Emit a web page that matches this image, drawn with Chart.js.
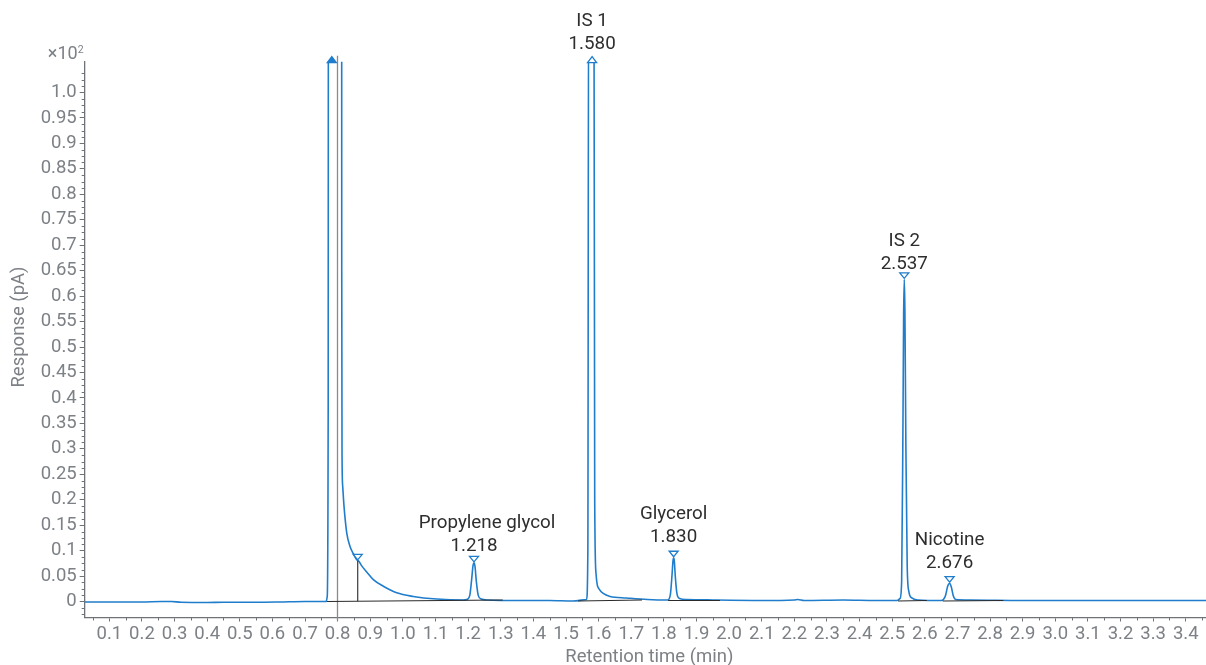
<!DOCTYPE html>
<html>
<head>
<meta charset="utf-8">
<script src="https://cdn.jsdelivr.net/npm/chart.js@4.4.1/dist/chart.umd.min.js"></script>
<style>
html,body{margin:0;padding:0;background:#ffffff;}
#wrap{width:1206px;height:665px;position:relative;overflow:hidden;}
canvas{display:block;}
</style>
</head>
<body>
<div id="wrap"><canvas id="c" width="1206" height="665"></canvas></div>
<script>
// ---------------- data ----------------
// retention time (min) and response (x10^2 pA) of the chromatogram trace
const traceTime = [
  0.024, 0.10, 0.20, 0.26, 0.29, 0.32, 0.40, 0.45, 0.55, 0.62, 0.70, 0.765,
  0.768, 0.771, 0.772, 0.812, 0.8125, 0.8135, 0.8155, 0.8195, 0.8278, 0.8379,
  0.8480, 0.8584, 0.8650, 0.8738, 0.8891, 0.9093, 0.9400, 0.9811, 1.0319,
  1.1037, 1.1852, 1.196, 1.205, 1.211, 1.215, 1.218, 1.221, 1.225, 1.231,
  1.240, 1.260, 1.350, 1.450, 1.520, 1.563, 1.567, 1.5695, 1.5855,
  1.588, 1.592, 1.596, 1.600, 1.614, 1.635, 1.686, 1.750, 1.812, 1.820,
  1.825, 1.828, 1.830, 1.832, 1.835, 1.840, 1.848, 1.870, 1.950, 2.100,
  2.200, 2.210, 2.230, 2.350, 2.450, 2.515, 2.524, 2.529, 2.533, 2.535,
  2.537, 2.539, 2.542, 2.546, 2.551, 2.560, 2.580, 2.650, 2.657, 2.664,
  2.670, 2.676, 2.681, 2.687, 2.695, 2.740, 2.900, 3.100, 3.300, 3.462
];
const traceResponse = [
  -0.001, -0.001, -0.001, 0.000, 0.000, -0.0015, -0.002, -0.0015, -0.0015, -0.001, 0.000, 0.000,
  0.010, 0.400, 2.000, 2.000, 0.650, 0.280, 0.226, 0.187, 0.135, 0.108,
  0.094, 0.082, 0.079, 0.070, 0.058, 0.043, 0.030, 0.017, 0.010,
  0.005, 0.003, 0.004, 0.012, 0.045, 0.071, 0.076, 0.069, 0.040, 0.012,
  0.005, 0.003, 0.002, 0.002, 0.001, 0.004, 0.100, 1.300, 1.300,
  0.200, 0.055, 0.032, 0.026, 0.016, 0.010, 0.007, 0.004, 0.003, 0.014,
  0.052, 0.080, 0.086, 0.080, 0.050, 0.016, 0.006, 0.004, 0.003, 0.002,
  0.003, 0.004, 0.002, 0.003, 0.002, 0.002, 0.006, 0.040, 0.350, 0.560,
  0.633, 0.570, 0.300, 0.070, 0.020, 0.007, 0.003, 0.002, 0.004, 0.013,
  0.030, 0.036, 0.029, 0.012, 0.004, 0.003, 0.002, 0.002, 0.002, 0.002
];

// integration baselines (start/end time and response)
const baseStartTime = [0.767, 1.537, 1.813, 2.518, 2.655];
const baseStartResp = [0.000, 0.001, 0.002, 0.001, 0.001];
const baseEndTime   = [1.306, 1.733, 1.972, 2.606, 2.841];
const baseEndResp   = [0.003, 0.003, 0.002, 0.002, 0.002];

// peak split (drop) line
const dropTime = [0.8615];
const dropFrom = [0.0003];
const dropTo   = [0.080];

// peak markers
const markerTime  = [0.782, 0.8615, 1.218, 1.580, 1.830, 2.537, 2.676];
const markerResp  = [2.000, 0.080, 0.076, 1.300, 0.086, 0.633, 0.036];
const markerStyle = ['filled', 'hollow', 'hollow', 'hollow', 'hollow', 'hollow', 'hollow'];

// peak labels
const peakNames = ['', '', 'Propylene glycol', 'IS 1', 'Glycerol', 'IS 2', 'Nicotine'];
const peakRT    = ['', '', '1.218', '1.580', '1.830', '2.537', '2.676'];

// timed event line
const eventTime = [0.8];

// axes
const xTickLabels = ['0.1','0.2','0.3','0.4','0.5','0.6','0.7','0.8','0.9','1.0','1.1','1.2',
  '1.3','1.4','1.5','1.6','1.7','1.8','1.9','2.0','2.1','2.2','2.3','2.4','2.5','2.6','2.7',
  '2.8','2.9','3.0','3.1','3.2','3.3','3.4'];
const yTickLabels = ['0','0.05','0.1','0.15','0.2','0.25','0.3','0.35','0.4','0.45','0.5',
  '0.55','0.6','0.65','0.7','0.75','0.8','0.85','0.9','0.95','1.0'];
const xRange = [0.0245, 3.462];
const yRange = [-0.0314, 1.0605];
const yMultiplier = '\u00d710';
const yMultiplierExp = '2';
const xTitle = 'Retention time (min)';
const yTitle = 'Response (pA)';

// ---------------- styling ----------------
const TRACE = '#1f7dcc';
const AXIS = '#6f7378';
const TICKTXT = '#7d8186';
const FONT = 'Roboto, "Noto Sans", sans-serif';
// label nudges in pixels (layout only)
const labelNudgeX = [0, 0, 13, 0, 0, 0, 0];
const labelNudgeY = [0, 0, 3, 1.5, 0, 5, 0];

const xTickValues = xTickLabels.map(parseFloat);
const yTickValues = yTickLabels.map(parseFloat);

const datasets = [];
datasets.push({
  label: 'trace',
  data: traceTime.map((t, i) => ({x: t, y: traceResponse[i]})),
  borderColor: TRACE, borderWidth: 1.6, pointRadius: 0, fill: false,
  cubicInterpolationMode: 'monotone', order: 2
});
baseStartTime.forEach((t, i) => {
  datasets.push({
    label: 'baseline' + i,
    data: [{x: t, y: baseStartResp[i]}, {x: baseEndTime[i], y: baseEndResp[i]}],
    borderColor: '#2a2a2a', borderWidth: 1.1, pointRadius: 0, fill: false, order: 1
  });
});
dropTime.forEach((t, i) => {
  datasets.push({
    label: 'drop' + i,
    data: [{x: t, y: dropFrom[i]}, {x: t, y: dropTo[i]}],
    borderColor: '#2a2a2a', borderWidth: 1.1, pointRadius: 0, fill: false, order: 1
  });
});

const decor = {
  id: 'decor',
  beforeDatasetsDraw(chart) {
    const ctx = chart.ctx, xs = chart.scales.x, ca = chart.chartArea;
    ctx.save();
    ctx.strokeStyle = '#8a8a8a';
    ctx.lineWidth = 1.3;
    eventTime.forEach(t => {
      const px = Math.floor(xs.getPixelForValue(t)) + 0.5;
      ctx.beginPath();
      ctx.moveTo(px, ca.top - 6);
      ctx.lineTo(px, ca.bottom + 3);
      ctx.stroke();
    });
    ctx.restore();
  },
  afterDatasetsDraw(chart) {
    const ctx = chart.ctx, xs = chart.scales.x, ys = chart.scales.y, ca = chart.chartArea;
    ctx.save();
    // minor ticks
    ctx.strokeStyle = AXIS;
    ctx.lineWidth = 1;
    const yMinorStep = (yTickValues[1] - yTickValues[0]) / 4;
    for (let k = -2; k <= 84; k++) {
      const v = k * yMinorStep;
      if (k % 4 === 0 || v < yRange[0] || v > yRange[1]) continue;
      const py = Math.round(ys.getPixelForValue(v)) + 0.5;
      ctx.beginPath(); ctx.moveTo(ca.left - 3, py); ctx.lineTo(ca.left, py); ctx.stroke();
    }
    const xMinorStep = (xTickValues[1] - xTickValues[0]) / 2;
    for (let k = 1; k <= 70; k += 2) {
      const v = k * xMinorStep;
      if (v < xRange[0] || v > xRange[1]) continue;
      const px = Math.round(xs.getPixelForValue(v)) + 0.5;
      ctx.beginPath(); ctx.moveTo(px, ca.bottom); ctx.lineTo(px, ca.bottom + 3); ctx.stroke();
    }
    // markers
    markerTime.forEach((t, i) => {
      const px = xs.getPixelForValue(t);
      const off = markerResp[i] > yRange[1];
      ctx.lineWidth = 1.3;
      ctx.strokeStyle = TRACE;
      ctx.beginPath();
      if (off) {
        const by = ca.top + 1;
        ctx.moveTo(px - 4.5, by); ctx.lineTo(px + 4.5, by); ctx.lineTo(px, by - 6); ctx.closePath();
      } else {
        const ty = ys.getPixelForValue(markerResp[i]) - 1;
        ctx.moveTo(px, ty); ctx.lineTo(px - 4.5, ty - 5.5); ctx.lineTo(px + 4.5, ty - 5.5); ctx.closePath();
      }
      ctx.fillStyle = markerStyle[i] === 'filled' ? TRACE : 'rgba(255,255,255,0.85)';
      ctx.fill();
      ctx.stroke();
      // labels
      if (peakNames[i]) {
        const markerTop = (off ? ca.top - 5 : ys.getPixelForValue(markerResp[i]) - 6.5) + labelNudgeY[i];
        ctx.fillStyle = '#2e2e2e';
        ctx.font = '18.8px ' + FONT;
        ctx.textAlign = 'center';
        ctx.textBaseline = 'middle';
        ctx.fillText(peakRT[i], px, markerTop - 13.5);
        ctx.fillText(peakNames[i], px + labelNudgeX[i], markerTop - 36.5);
      }
    });
    ctx.restore();
  },
  afterDraw(chart) {
    const ctx = chart.ctx, ca = chart.chartArea;
    ctx.save();
    ctx.fillStyle = TICKTXT;
    ctx.font = '18px ' + FONT;
    ctx.textAlign = 'right';
    ctx.textBaseline = 'alphabetic';
    ctx.fillText(yMultiplier, ca.left - 7, ca.top - 3);
    ctx.font = '10.5px ' + FONT;
    ctx.textAlign = 'left';
    ctx.fillText(yMultiplierExp, ca.left - 7, ca.top - 9);
    ctx.font = '18.5px ' + FONT;
    ctx.textAlign = 'center';
    ctx.textBaseline = 'middle';
    ctx.fillText(xTitle, (ca.left + ca.right) / 2 + 4, 657);
    ctx.translate(19, 327);
    ctx.rotate(-Math.PI / 2);
    ctx.fillText(yTitle, 0, 0);
    ctx.restore();
  }
};

new Chart(document.getElementById('c'), {
  type: 'line',
  data: {datasets},
  options: {
    responsive: false,
    animation: false,
    events: [],
    layout: {padding: {top: 61.7, right: 0, left: 0, bottom: 0}},
    plugins: {legend: {display: false}, tooltip: {enabled: false}},
    scales: {
      x: {
        type: 'linear', min: xRange[0], max: xRange[1],
        afterBuildTicks: s => { s.ticks = xTickValues.map(v => ({value: v})); },
        afterFit: s => { s.height = 47.5; },
        grid: {display: true, drawOnChartArea: false, drawTicks: true, tickLength: 4, color: AXIS, tickColor: AXIS},
        border: {display: true, color: AXIS, width: 1.3},
        ticks: {
          color: TICKTXT, font: {family: FONT, size: 18.5}, padding: 2,
          autoSkip: false, maxRotation: 0, minRotation: 0,
          callback: (v, i) => xTickLabels[i]
        }
      },
      y: {
        type: 'linear', min: yRange[0], max: yRange[1],
        afterBuildTicks: s => { s.ticks = yTickValues.map(v => ({value: v})); },
        afterFit: s => { s.width = 84.7; },
        grid: {display: true, drawOnChartArea: false, drawTicks: true, tickLength: 5, color: AXIS, tickColor: AXIS},
        border: {display: true, color: AXIS, width: 1.3},
        ticks: {
          color: TICKTXT, font: {family: FONT, size: 18.5}, padding: 3,
          autoSkip: false,
          callback: (v, i) => yTickLabels[i]
        }
      }
    }
  },
  plugins: [decor]
});
</script>
</body>
</html>
